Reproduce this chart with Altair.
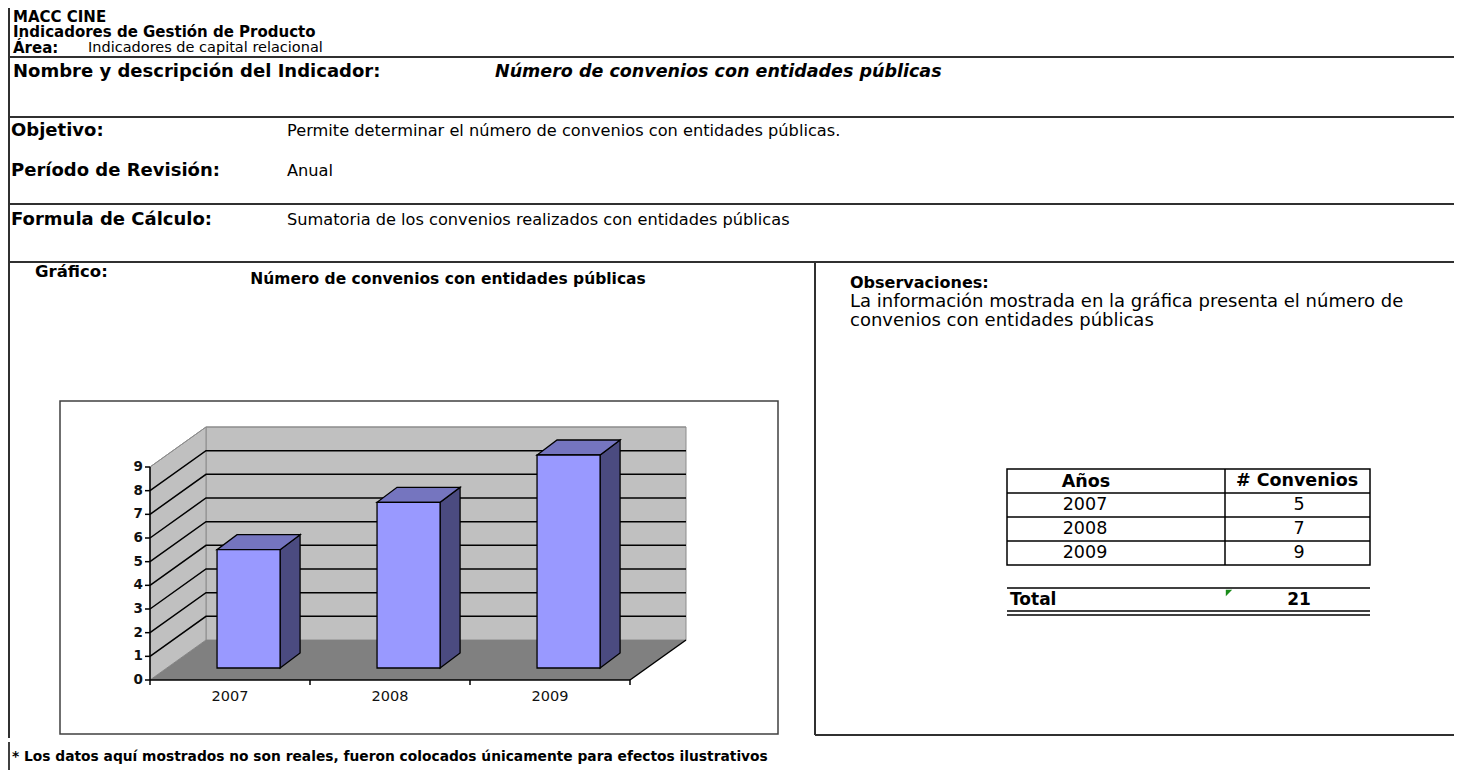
import altair as alt
import pandas as pd

# ---------------- data ----------------
years = ["2007", "2008", "2009"]
convenios = [5, 7, 9]
y_ticks = list(range(0, 10))
total_label = "Total"
total_value = str(sum(convenios))

# ---------------- texts ----------------
T_COMPANY = "MACC CINE"
T_SUBTITLE = "Indicadores de Gestión de Producto"
T_AREA_L = "Área:"
T_AREA_V = "Indicadores de capital relacional"
T_NAME_L = "Nombre y descripción del Indicador:"
T_NAME_V = "Número de convenios con entidades públicas"
T_OBJ_L = "Objetivo:"
T_OBJ_V = "Permite determinar el número de convenios con entidades públicas."
T_PER_L = "Período de Revisión:"
T_PER_V = "Anual"
T_FOR_L = "Formula de Cálculo:"
T_FOR_V = "Sumatoria de los convenios realizados con entidades públicas"
T_GRAF = "Gráfico:"
T_CHART_TITLE = "Número de convenios  con entidades públicas"
T_OBS_L = "Observaciones:"
T_OBS_1 = "La información mostrada en la gráfica presenta el número de"
T_OBS_2 = "convenios con entidades públicas"
T_COL1 = "Años"
T_COL2 = "# Convenios"
T_FOOT = "* Los datos aquí mostrados no son reales, fueron colocados únicamente para efectos ilustrativos"

# ---------------- layout helpers ----------------
W, H = 1446, 762
OFF = 8
FONT = "DejaVu Sans, Verdana, sans-serif"
LINE = "#303030"


def P(v):
    return v - OFF


one = pd.DataFrame({"a": [0]})


def text_layer(s, x, y, size, weight="normal", style="normal", align="left", color="black"):
    df = pd.DataFrame({"t": [s]})
    return alt.Chart(df).mark_text(
        align=align, baseline="middle", font=FONT, fontSize=size,
        fontWeight=weight, fontStyle=style, color=color
    ).encode(x=alt.value(P(x)), y=alt.value(P(y)), text="t:N")


def rule(x1, y1, x2, y2, color=LINE, w=2.0):
    return alt.Chart(one).mark_rule(color=color, strokeWidth=w).encode(
        x=alt.value(P(x1)), y=alt.value(P(y1)), x2=alt.value(P(x2)), y2=alt.value(P(y2))
    )


def box(x1, y1, x2, y2, fill="white", stroke="#404040", w=1.5):
    return alt.Chart(one).mark_rect(fill=fill, stroke=stroke, strokeWidth=w).encode(
        x=alt.value(P(x1)), y=alt.value(P(y1)), x2=alt.value(P(x2)), y2=alt.value(P(y2))
    )


layers = []

# frame
layers += [
    rule(9, 8, 9, 738),
    rule(9, 57, 1462, 57),
    rule(9, 117, 1462, 117),
    rule(9, 204, 1462, 204),
    rule(9, 262, 1462, 262),
    rule(815, 262, 815, 735),
    rule(815, 735, 1462, 735),
    rule(9, 742, 9, 778, color="black", w=1.5),
]

# header texts
BL_SIZE = 18
RG_SIZE = 16.2
HS = 15
layers += [
    text_layer(T_COMPANY, 13, 16.5, HS, "bold"),
    text_layer(T_SUBTITLE, 13, 32, HS, "bold"),
    text_layer(T_AREA_L, 13, 47.5, HS, "bold"),
    text_layer(T_AREA_V, 88, 47.5, 14.5),
    text_layer(T_NAME_L, 13, 72, BL_SIZE, "bold"),
    text_layer(T_NAME_V, 495, 72, 17.5, "bold", "italic"),
    text_layer(T_OBJ_L, 11, 131, BL_SIZE, "bold"),
    text_layer(T_OBJ_V, 287, 131, RG_SIZE),
    text_layer(T_PER_L, 11, 171, BL_SIZE, "bold"),
    text_layer(T_PER_V, 287, 171, RG_SIZE),
    text_layer(T_FOR_L, 11, 220, BL_SIZE, "bold"),
    text_layer(T_FOR_V, 287, 220, RG_SIZE),
    text_layer(T_GRAF, 35, 272, 16.5, "bold"),
    text_layer(T_CHART_TITLE, 448, 279, 15.5, "bold", align="center"),
    text_layer(T_OBS_L, 850, 283, 16, "bold"),
    text_layer(T_OBS_1, 850, 302, 18),
    text_layer(T_OBS_2, 850, 321, 18),
    text_layer(T_FOOT, 12, 757, 13.8, "bold"),
]

# chart box
layers.append(box(60, 401, 778, 734))

# ---------------- 3D bar chart through scales ----------------
UNIT = 213 / 9.0       # px per convenio
SLOT = 160.0           # px per category slot
X0, Y0 = P(150), P(680)
xs = alt.Scale(domain=[(0 - X0) / SLOT, (W - X0) / SLOT], nice=False, zero=False)
ys = alt.Scale(domain=[(Y0 - H) / UNIT, Y0 / UNIT], nice=False, zero=False)


def XX(f):
    return alt.X(f, type="quantitative", scale=xs, axis=None)


def YY(f):
    return alt.Y(f, type="quantitative", scale=ys, axis=None, stack=False)


n = len(years)
VMAX = max(y_ticks)
DU, DV = 56 / SLOT, 40 / UNIT          # floor depth
BDU, BDV = 20 / SLOT, 15 / UNIT        # bar depth
BL, BR = 0.314, 0.708                  # bar front face within slot
MIDX, MIDY = 16.8, -12                 # bars stand at mid depth
OFFS = dict(xOffset=MIDX, x2Offset=MIDX, yOffset=MIDY, y2Offset=MIDY)

back_wall = pd.DataFrame({"u": [DU], "u2": [n + DU], "v": [DV], "v2": [VMAX + DV]})
left_wall = pd.DataFrame({"u": [0, DU], "lo": [0, DV], "hi": [VMAX, VMAX + DV]})
floor = pd.DataFrame({"u": [0, DU, n, n + DU], "lo": [0, 0, 0, DV], "hi": [0, DV, DV, DV]})

grid_rows = []
for k in y_ticks[1:]:
    for uu, vv in [(0, k), (DU, k + DV), (n + DU, k + DV)]:
        grid_rows.append({"k": k, "u": uu, "v": vv, "top": k == VMAX})
grid = pd.DataFrame(grid_rows)
floor_edge = pd.DataFrame({"u": [n, n + DU], "v": [0, DV]})

layers.append(alt.Chart(back_wall).mark_rect(fill="#c0c0c0", stroke="#8c8c8c", strokeWidth=1).encode(
    x=XX("u"), x2="u2", y=YY("v"), y2="v2"))
layers.append(alt.Chart(left_wall).mark_area(fill="#c0c0c0", stroke="#8c8c8c", strokeWidth=1, opacity=1).encode(
    x=XX("u"), y=YY("lo"), y2="hi"))
layers.append(alt.Chart(floor).mark_area(fill="#808080", opacity=1).encode(
    x=XX("u"), y=YY("lo"), y2="hi"))
layers.append(alt.Chart(grid).transform_filter("!datum.top").mark_line(color="black", strokeWidth=1.5).encode(
    x=XX("u"), y=YY("v"), detail="k:N"))
layers.append(alt.Chart(grid).transform_filter("datum.top").mark_line(color="#8c8c8c", strokeWidth=1).encode(
    x=XX("u"), y=YY("v"), detail="k:N"))
layers.append(alt.Chart(floor_edge).mark_line(color="black", strokeWidth=1.5).encode(
    x=XX("u"), y=YY("v")))

# axes
xaxis = pd.DataFrame({"u": [0], "u2": [n], "v": [0]})
xticks = pd.DataFrame({"u": list(range(n + 1)), "v": [0] * (n + 1), "v2": [-5 / UNIT] * (n + 1)})
yaxis = pd.DataFrame({"u": [0], "v": [0], "v2": [VMAX]})
yt = pd.DataFrame({"u": [-5 / SLOT] * len(y_ticks), "u2": [0] * len(y_ticks), "v": y_ticks,
                   "lab": [str(t) for t in y_ticks]})
xl = pd.DataFrame({"u": [i + 0.5 for i in range(n)], "year": years})

layers.append(alt.Chart(xaxis).mark_rule(color="black", strokeWidth=1.5).encode(x=XX("u"), x2="u2", y=YY("v")))
layers.append(alt.Chart(xticks).mark_rule(color="black", strokeWidth=1.5).encode(x=XX("u"), y=YY("v"), y2="v2"))
layers.append(alt.Chart(yaxis).mark_rule(color="black", strokeWidth=1.5).encode(x=XX("u"), y=YY("v"), y2="v2"))
layers.append(alt.Chart(yt).mark_rule(color="black", strokeWidth=1.5).encode(x=XX("u"), x2="u2", y=YY("v")))
layers.append(alt.Chart(yt).mark_text(align="right", baseline="middle", font=FONT, fontSize=13.5,
                                      fontWeight="bold", color="#111", dx=-7).encode(
    x=XX("u2"), y=YY("v"), text="lab:N"))
layers.append(alt.Chart(xl).mark_text(align="center", baseline="middle", font=FONT, fontSize=14.5,
                                      color="#111").encode(
    x=XX("u"), y=alt.value(P(697)), text="year:N"))

# bars
front_rows, top_rows, side_rows = [], [], []
for i, (yr, val) in enumerate(zip(years, convenios)):
    ul, ur = i + BL, i + BR
    front_rows.append({"year": yr, "u": ul, "u2": ur, "v": 0, "v2": val})
    for uu, lo, hi in [(ul, val, val), (ul + BDU, val, val + BDV), (ur, val, val + BDV),
                       (ur + BDU, val + BDV, val + BDV)]:
        top_rows.append({"year": yr, "u": uu, "lo": lo, "hi": hi})
    for uu, lo, hi in [(ur, 0, val), (ur + BDU, BDV, val + BDV)]:
        side_rows.append({"year": yr, "u": uu, "lo": lo, "hi": hi})

layers.append(alt.Chart(pd.DataFrame(side_rows)).mark_area(
    fill="#4b4b80", stroke="black", strokeWidth=1.3, opacity=1, **OFFS).encode(
    x=XX("u"), y=YY("lo"), y2="hi", detail="year:N"))
layers.append(alt.Chart(pd.DataFrame(top_rows)).mark_area(
    fill="#7575bf", stroke="black", strokeWidth=1.3, opacity=1, **OFFS).encode(
    x=XX("u"), y=YY("lo"), y2="hi", detail="year:N"))
layers.append(alt.Chart(pd.DataFrame(front_rows)).mark_rect(
    fill="#9999ff", stroke="black", strokeWidth=1.3, **OFFS).encode(
    x=XX("u"), x2="u2", y=YY("v"), y2="v2"))

# ---------------- table ----------------
TX1, TXM, TX2 = 1007, 1225, 1370
TY = [469, 493, 517, 541, 565]
TS = 17.5
layers.append(box(TX1, TY[0], TX2, TY[-1], fill="white", stroke="black", w=1.5))
for yy in TY[1:-1]:
    layers.append(rule(TX1, yy, TX2, yy, color="black", w=1.5))
layers.append(rule(TXM, TY[0], TXM, TY[-1], color="black", w=1.5))
layers.append(text_layer(T_COL1, 1086, (TY[0] + TY[1]) / 2 + 1, TS, "bold", align="center"))
layers.append(text_layer(T_COL2, 1297, (TY[0] + TY[1]) / 2, TS, "bold", align="center"))
for i in range(n):
    cy = (TY[i + 1] + TY[i + 2]) / 2
    layers.append(text_layer(years[i], 1085, cy, TS, align="center"))
    layers.append(text_layer(str(convenios[i]), 1299, cy, TS, align="center"))

layers += [
    rule(TX1, 588, TX2, 588, color="black", w=1.5),
    rule(TX1, 611, TX2, 611, color="black", w=1.5),
    rule(TX1, 615, TX2, 615, color="black", w=1.5),
    text_layer(total_label, 1010, 600, 17, "bold"),
    text_layer(total_value, 1299, 600, 17, "bold", align="center"),
]
layers.append(alt.Chart(one).mark_point(shape="M-1,-1L1,-1L-1,1Z", filled=True, color="#1a8c1a",
                                        size=40, opacity=1).encode(
    x=alt.value(P(1229)), y=alt.value(P(593))))

chart = alt.layer(*layers).properties(
    width=W, height=H, autosize=alt.AutoSizeParams(type="none"), padding=0
).configure_view(strokeWidth=0)

chart.save("out.html", embed_options={"renderer": "svg", "actions": False})
